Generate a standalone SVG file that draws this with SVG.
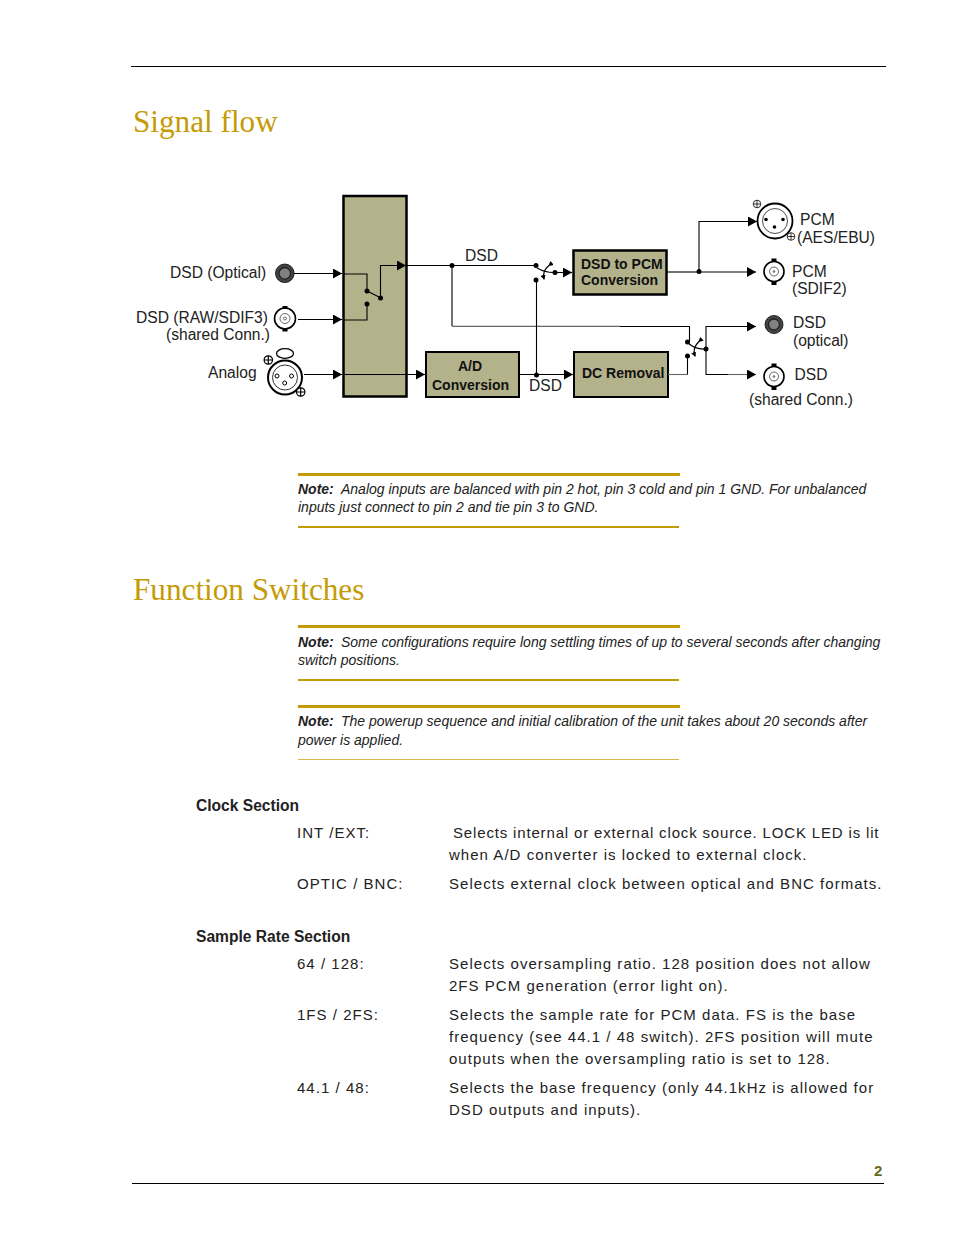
<svg xmlns="http://www.w3.org/2000/svg" width="954" height="1235" viewBox="0 0 954 1235">
<defs>
<marker id="a" markerUnits="userSpaceOnUse" markerWidth="9" markerHeight="10" refX="9" refY="5" orient="auto"><path d="M0 0L9 5L0 10Z" fill="#000"/></marker>
<marker id="m" markerUnits="userSpaceOnUse" markerWidth="5" markerHeight="5" refX="4" refY="2.500" orient="auto"><path d="M0 0L5 2.500L0 5Z" fill="#000"/></marker>
</defs>
<style>
text{font-family:"Liberation Sans",Arial,sans-serif;fill:#111}
.h{font-family:"Liberation Serif","Times New Roman",serif;font-size:31.2px;fill:#c49b05}
.l{font-size:15.6px;fill:#222}
.b{font-size:14px;font-weight:bold;fill:#111}
.n{font-size:14px;font-style:italic;fill:#222}
.nb{font-size:14px;font-style:italic;font-weight:bold;fill:#222}
.t{font-size:15px;letter-spacing:1.03px;fill:#222}
.s{font-size:15.6px;font-weight:bold;fill:#222}
.box{fill:#b3b28b;stroke:#000;stroke-width:2.500}
.box2{fill:#b3b28b;stroke:#000;stroke-width:2}
.c{fill:none;stroke:#000;stroke-width:1.100}
.g{fill:none;stroke:#c49b05}
.d{fill:#000}
.o{fill:#fff;stroke:#000}
</style>
<path d="M131 66.500H886M132 1183.500H884" stroke="#000" fill="none"/>
<text class="h" x="133" y="132">Signal flow</text>
<text class="h" x="133" y="600">Function Switches</text>

<g id="router"><rect class="box" x="343.500" y="196" width="63" height="200.500"/></g>
<g id="dsd-pcm"><rect class="box" x="573.500" y="250.500" width="93" height="44"/><text class="b" x="581" y="268.500">DSD to PCM</text><text class="b" x="581" y="284.500">Conversion</text></g>
<g id="ad"><rect class="box2" x="426" y="352" width="93" height="45"/><text class="b" x="458" y="371">A/D</text><text class="b" x="432" y="390">Conversion</text></g>
<g id="dc"><rect class="box2" x="574" y="352" width="94" height="45"/><text class="b" x="582" y="378">DC Removal</text></g>

<g id="connectors" class="c">
<path marker-end="url(#a)" d="M294 273.500H342"/>
<path marker-end="url(#a)" d="M298 319.500H342"/>
<path marker-end="url(#a)" d="M304 374.500H342"/>
<path marker-end="url(#a)" d="M343 374.500H425"/>
<path d="M343 274H367V291"/>
<path d="M343 320H367V304"/>
<path d="M367 291L381 298"/>
<path marker-end="url(#a)" d="M380.500 298V265.500H406"/>
<path d="M407 265.500H536"/>
<path d="M452 265.500V326"/>
<path d="M452 326.300H620" stroke="#666" stroke-width="1.300"/>
<path d="M620 326.500H689.500V342"/>
<path d="M536.500 280V374.500"/>
<path marker-end="url(#a)" d="M519 374.500H573"/>
<path d="M537 268Q546 273 555 272.500"/>
<path d="M549 265.500Q542 271 544 279" marker-start="url(#m)" marker-end="url(#m)" stroke-width="1.300"/>
<path marker-end="url(#a)" d="M555 272.500H572"/>
<path d="M667 272H699"/>
<path marker-end="url(#a)" d="M699 272V221.500H757"/>
<path marker-end="url(#a)" d="M699 272H756"/>
<path d="M668 374.500H687.500" stroke="#666"/>
<path d="M687.500 374.500V356"/>
<path d="M688 343Q696 350 706 349"/>
<path d="M699 341.500Q692 348 695 356" marker-start="url(#m)" marker-end="url(#m)" stroke-width="1.300"/>
<path marker-end="url(#a)" d="M706 349V326.500H756"/>
<path d="M706 349V374.500H728"/>
<path marker-end="url(#a)" d="M728 374.500H756" stroke="#666"/>
<g class="d" stroke="none">
<circle cx="367" cy="291" r="2.500"/><circle cx="367" cy="304" r="2.500"/><circle cx="380.500" cy="298" r="2.500"/>
<circle cx="452" cy="265.500" r="2.500"/><circle cx="536" cy="265.500" r="2.500"/><circle cx="536" cy="280" r="2.500"/><circle cx="555" cy="272.500" r="2.500"/>
<circle cx="536.500" cy="375" r="2.500"/><circle cx="699" cy="271.500" r="2.500"/>
<circle cx="687.500" cy="342" r="2.500"/><circle cx="687.500" cy="356" r="2.500"/><circle cx="706" cy="349" r="2.500"/>
</g>
</g>

<g id="in-optical"><circle cx="284.800" cy="273.300" r="9.300" fill="#444" stroke="#000" stroke-width=".8"/><circle cx="284.800" cy="273.300" r="5.800" fill="#808080" stroke="#222" stroke-width="1.300"/><text class="l" x="170" y="278">DSD (Optical)</text></g>
<g id="in-bnc"><circle class="o" cx="285" cy="318.500" r="10.500" stroke-width="1.600"/><circle class="o" cx="285" cy="318.500" r="5" stroke-width=".6"/><circle cx="285" cy="318.500" r="1.500" fill="none" stroke="#333" stroke-width=".7"/><rect x="282.500" y="306" width="5" height="3"/><rect x="282.500" y="328.500" width="5" height="3"/><text class="l" x="136" y="323">DSD (RAW/SDIF3)</text><text class="l" x="166" y="340">(shared Conn.)</text></g>
<g id="in-xlr"><ellipse class="o" cx="285" cy="353.500" rx="8.500" ry="4.800" stroke-width="1.300"/><circle class="o" cx="285" cy="377.500" r="17" stroke-width="2"/><circle class="o" cx="285" cy="377.500" r="12.500" stroke-width=".8"/><circle class="o" cx="277" cy="376" r="2" stroke-width="1"/><circle class="o" cx="291.500" cy="376" r="2" stroke-width="1"/><circle class="o" cx="284.700" cy="383" r="2" stroke-width="1"/><circle class="o" cx="268.300" cy="360" r="4.200" stroke-width="1.200"/><path d="M264 360h8.600M268.300 355.700v8.600" stroke="#000" stroke-width="1.200"/><circle class="o" cx="300.700" cy="392" r="4.200" stroke-width="1.200"/><path d="M296.400 392h8.600M300.700 387.700v8.600" stroke="#000" stroke-width="1.200"/><text class="l" x="208" y="378">Analog</text></g>
<g id="out-xlr"><circle class="o" cx="775" cy="221" r="17.500" stroke-width="1.800"/><circle class="o" cx="775" cy="221" r="12.500" stroke-width=".7"/><circle cx="766" cy="219.500" r="1.800"/><circle cx="783" cy="219.500" r="1.800"/><circle cx="774.500" cy="227" r="1.800"/><circle class="o" cx="757" cy="204" r="3.800" stroke-width=".8"/><path d="M753.500 204h7M757 200.500v7" stroke="#000" stroke-width=".8"/><circle class="o" cx="791" cy="236.500" r="3.800" stroke-width=".8"/><path d="M787.500 236.500h7M791 233v7" stroke="#000" stroke-width=".8"/><text class="l" x="800" y="225">PCM</text><text class="l" x="797" y="243">(AES/EBU)</text></g>
<g id="out-bnc1"><circle class="o" cx="774" cy="271.500" r="10" stroke-width="1.600"/><circle class="o" cx="774" cy="271.500" r="4.500" stroke-width=".6"/><circle cx="774" cy="271.500" r="1.300" fill="#777"/><rect x="771.500" y="258.500" width="5" height="3"/><rect x="771.500" y="282" width="5" height="3"/><text class="l" x="792" y="277">PCM</text><text class="l" x="792" y="294">(SDIF2)</text></g>
<g id="out-optical"><circle cx="774" cy="324.500" r="9" fill="#444" stroke="#000" stroke-width=".8"/><circle cx="774" cy="324.500" r="5.500" fill="#808080" stroke="#222" stroke-width="1.300"/><text class="l" x="793" y="328">DSD</text><text class="l" x="793" y="346">(optical)</text></g>
<g id="out-bnc2"><circle class="o" cx="774" cy="376.500" r="10" stroke-width="1.600"/><circle class="o" cx="774" cy="376.500" r="4.500" stroke-width=".6"/><circle cx="774" cy="376.500" r="1.300" fill="#777"/><rect x="771.500" y="363.500" width="5" height="3"/><rect x="771.500" y="387" width="5" height="3"/><text class="l" x="794.500" y="380">DSD</text><text class="l" x="749" y="405">(shared Conn.)</text></g>

<text class="l" x="465" y="261">DSD</text>
<text class="l" x="529" y="391">DSD</text>

<path class="g" stroke-width="3" d="M298 474.500H680M298 626.500H680M298 706.500H680"/>
<path class="g" stroke-width="2" d="M298 527H679M298 680H679"/>
<path class="g" d="M298 759.500H679" stroke-width="1" opacity=".7"/>
<text x="298" y="494" class="n"><tspan class="nb">Note:</tspan><tspan x="341">Analog inputs are balanced with pin 2 hot, pin 3 cold and pin 1 GND. For unbalanced</tspan></text>
<text x="298" y="512" class="n">inputs just connect to pin 2 and tie pin 3 to GND.</text>
<text x="298" y="647" class="n"><tspan class="nb">Note:</tspan><tspan x="341">Some configurations require long settling times of up to several seconds after changing</tspan></text>
<text x="298" y="665" class="n">switch positions.</text>
<text x="298" y="726" class="n"><tspan class="nb">Note:</tspan><tspan x="341">The powerup sequence and initial calibration of the unit takes about 20 seconds after</tspan></text>
<text x="298" y="745" class="n">power is applied.</text>

<text class="s" x="196" y="811">Clock Section</text>
<text class="t" x="297" y="838">INT /EXT:</text>
<text class="t" x="453" y="838" style="letter-spacing:.84px">Selects internal or external clock source. LOCK LED is lit</text>
<text class="t" x="449" y="860">when A/D converter is locked to external clock.</text>
<text class="t" x="297" y="889">OPTIC / BNC:</text>
<text class="t" x="449" y="889">Selects external clock between optical and BNC formats.</text>
<text class="s" x="196" y="942">Sample Rate Section</text>
<text class="t" x="297" y="969">64 / 128:</text>
<text class="t" x="449" y="969">Selects oversampling ratio. 128 position does not allow</text>
<text class="t" x="449" y="991">2FS PCM generation (error light on).</text>
<text class="t" x="297" y="1020">1FS / 2FS:</text>
<text class="t" x="449" y="1020">Selects the sample rate for PCM data. FS is the base</text>
<text class="t" x="449" y="1042">frequency (see 44.1 / 48 switch). 2FS position will mute</text>
<text class="t" x="449" y="1064">outputs when the oversampling ratio is set to 128.</text>
<text class="t" x="297" y="1093">44.1 / 48:</text>
<text class="t" x="449" y="1093">Selects the base frequency (only 44.1kHz is allowed for</text>
<text class="t" x="449" y="1115">DSD outputs and inputs).</text>
<text x="874" y="1176" style="font-size:15px;font-weight:bold;fill:#66691a">2</text>
</svg>
